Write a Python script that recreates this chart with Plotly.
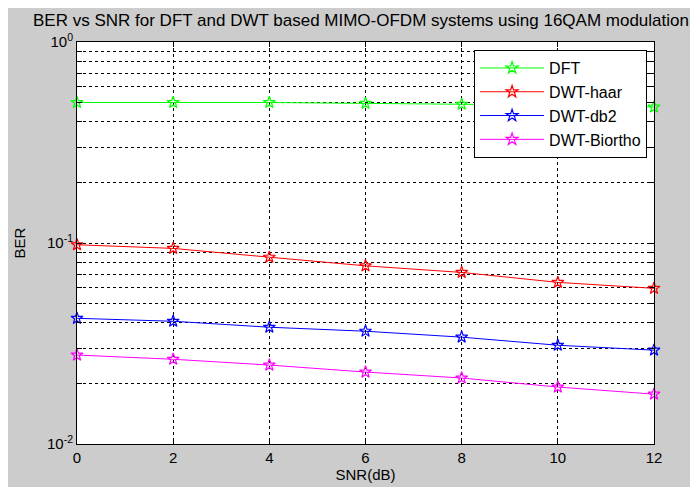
import plotly.graph_objects as go

snr = [0, 2, 4, 6, 8, 10, 12]
ber_dft = [0.50, 0.50, 0.50, 0.495, 0.49, 0.485, 0.475]
ber_haar = [0.098, 0.094, 0.085, 0.077, 0.0714, 0.0637, 0.0595]
ber_db2 = [0.0422, 0.0408, 0.0381, 0.0364, 0.034, 0.031, 0.0293]
ber_bior = [0.0277, 0.0264, 0.0247, 0.0228, 0.0213, 0.0192, 0.0177]

series = [
    ("DFT", ber_dft, "#00ff00"),
    ("DWT-haar", ber_haar, "#ff0000"),
    ("DWT-db2", ber_db2, "#0000ff"),
    ("DWT-Biortho", ber_bior, "#ff00ff"),
]

x_ticks = [0, 2, 4, 6, 8, 10, 12]
y_tickvals = []
y_ticktext = []
for exp in (-2, -1):
    for m in range(1, 10):
        y_tickvals.append(m * 10 ** exp)
        y_ticktext.append(f"10<sup>{exp}</sup>" if m == 1 else "")
y_tickvals.append(1.0)
y_ticktext.append("10<sup>0</sup>")

fig = go.Figure()
for name, vals, col in series:
    fig.add_trace(go.Scatter(
        x=snr, y=vals, name=name, mode="lines+markers", cliponaxis=False,
        line=dict(color=col, width=1),
        marker=dict(symbol="star-open", size=9, color=col, line=dict(width=1.2, color=col)),
    ))

font = "Liberation Sans, Arial, sans-serif"
fig.update_layout(
    width=698, height=487,
    margin=dict(l=69, r=52, t=34, b=51),
    paper_bgcolor="#cccccc",
    plot_bgcolor="white",
    font=dict(family=font, size=14, color="black"),
    title=dict(text="BER vs SNR for DFT and DWT based MIMO-OFDM systems using 16QAM modulation",
               x=(361 - 8) / 698, xref="container", xanchor="center", y=1 - 12 / 487, yanchor="middle",
               font=dict(size=17, family=font)),
    showlegend=True,
    legend=dict(x=0.988, y=0.980, xanchor="right", yanchor="top",
                bgcolor="white", bordercolor="black", borderwidth=1,
                font=dict(size=16, family=font), tracegroupgap=0, itemwidth=64),
)
fig.update_xaxes(
    range=[0, 12], tickvals=x_ticks, ticks="inside", ticklen=5, tickcolor="black",
    showline=True, linecolor="black", linewidth=1, mirror="ticks",
    showgrid=True, gridcolor="black", gridwidth=1, griddash="3px,3px",
    zeroline=False, tickfont=dict(size=15),
    title=dict(text="SNR(dB)", font=dict(size=15), standoff=3),
)
fig.update_yaxes(
    type="log", range=[-2, 0], tickvals=y_tickvals, ticktext=y_ticktext,
    ticks="inside", ticklen=5, tickcolor="black",
    showline=True, linecolor="black", linewidth=1, mirror="ticks",
    showgrid=True, gridcolor="black", gridwidth=1, griddash="3px,3px",
    zeroline=False, tickfont=dict(size=15),
    title=dict(text="BER", font=dict(size=15), standoff=17),
)

fig.write_html("out.html")
